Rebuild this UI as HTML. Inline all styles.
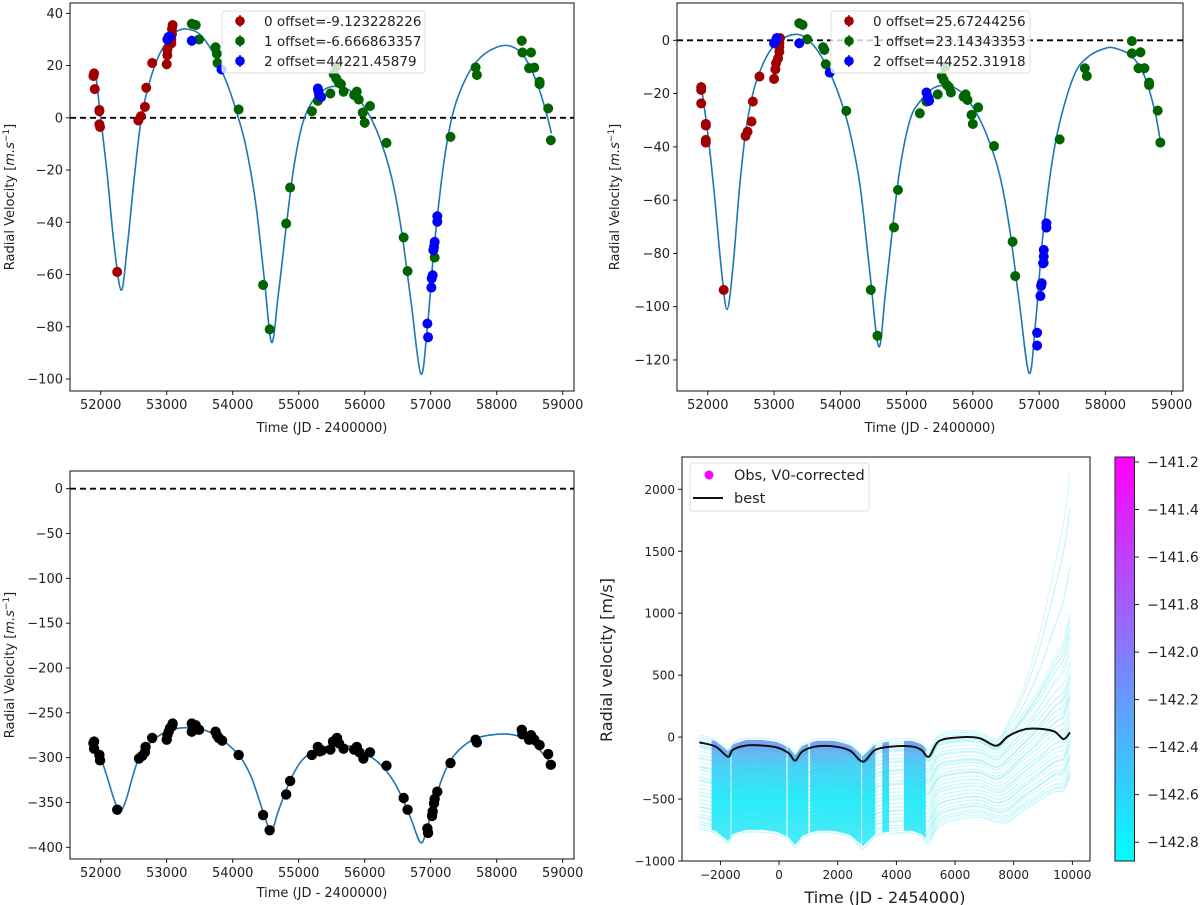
<!DOCTYPE html>
<html><head><meta charset="utf-8"><style>
html,body{margin:0;padding:0;background:#fff;}
svg{display:block;font-family:"DejaVu Sans","Liberation Sans",sans-serif;}
</style></head><body>
<svg id="fig" width="1200" height="905" viewBox="0 0 1200 905" xmlns="http://www.w3.org/2000/svg">
<defs>
<linearGradient id="cbgrad" x1="0" y1="1" x2="0" y2="0">
<stop offset="0" stop-color="#00ffff"/><stop offset="1" stop-color="#ff00ff"/></linearGradient>
<linearGradient id="obsgrad" gradientUnits="userSpaceOnUse" x1="0" y1="725" x2="0" y2="860">
<stop offset="0" stop-color="#b060f0"/><stop offset="0.12" stop-color="#6a90f2"/><stop offset="0.3" stop-color="#30c8f4"/><stop offset="0.55" stop-color="#0ae8f8"/><stop offset="1" stop-color="#40e6f6"/></linearGradient>
</defs>
</svg>
<script>
// ---------- DATA ----------
const tl_model_t=[51920,52000,52100,52200,52310,52400,52500,52600,52700,52850,53000,53150,53300,53500,53700,53900,54050,54200,54350,54480,54590,54690,54800,54920,55050,55200,55400,55600,55800,56000,56200,56400,56550,56700,56850,56950,57050,57200,57350,57550,57750,58000,58200,58400,58600,58750,58830];
const tl_model_v=[18,0,-22,-48,-66,-50,-25,-3,10,22,29,33,34,32,25,14,3,-11,-33,-62,-86,-68,-44,-20,-3,6,11,12,10,4,-6,-22,-42,-70,-98,-80,-50,-17,3,16,23,27,27.5,24,14,2,-6];
const tl_s0_t=[51890,51900,51910,51980,51980,51980,51990,52250,52570,52610,52670,52690,52780,53000,53010,53010,53040,53070,53080,53080,53090,53070];
const tl_s0_v=[16,17,11,3,2.5,-2.5,-3.5,-59,-1,0.6,4.2,11.5,21,20.5,24,26,28,30,32,34,35.5,28.5];
const tl_s1_t=[53380,53440,53490,53740,53760,53770,54090,54460,54560,54810,54870,55200,55290,55480,55530,55570,55570,55610,55640,55680,55840,55880,55910,55970,56000,56080,56330,56590,56650,57060,57300,57680,57700,58380,58390,58520,58490,58570,58650,58650,58780,58820];
const tl_s1_v=[36,35.5,30,27,24.5,21,3.2,-64,-81,-40.5,-26.7,2.5,6.5,9.3,16.7,19.5,15,13.4,12.9,10,8.7,10,7,2,-1.9,4.5,-9.6,-45.8,-58.7,-53.5,-7.3,19.3,16.4,29.5,25,25,19,19.2,13.8,12.9,3.6,-8.6];
const tl_s2_t=[53010,53030,53050,53380,53830,55290,55310,55340,55300,56950,56960,57010,57015,57030,57040,57050,57060,57100,57100];
const tl_s2_v=[30,31,31,29.5,18.5,11.2,8.7,8,10,-78.8,-84,-65,-61.5,-60.3,-50.7,-49.4,-47.5,-37.7,-39.8];

const tr_model_t=[51900,52000,52100,52200,52290,52380,52480,52580,52700,52850,53000,53200,53400,53600,53800,54000,54150,54300,54450,54580,54680,54800,54900,55050,55200,55400,55600,55800,56000,56200,56400,56550,56700,56850,56950,57050,57200,57350,57550,57750,58000,58150,58400,58600,58750,58830];
const tr_model_v=[-17,-35,-58,-85,-101,-85,-55,-33,-18,-8,-2,1.5,2,-2,-10,-22,-35,-55,-88,-115,-95,-68,-48,-30,-23,-18,-17,-19,-25,-35,-50,-70,-98,-125,-105,-75,-45,-27,-12,-6,-3,-3,-6,-14,-27,-38];
const tr_s0_t=[51900,51900,51900,51970,51970,51970,51970,52240,52570,52600,52660,52680,52780,53000,53020,53030,53060,53080,53080,53090,53080];
const tr_s0_v=[-18.6,-17.6,-23.7,-31.4,-32,-37.4,-38.4,-93.7,-35.9,-34.3,-30.5,-23,-13.6,-14.5,-10.9,-8.6,-6.8,-4.3,-2.4,0.8,-1.1];
const tr_s1_t=[53380,53430,53500,53740,53760,53780,54090,54460,54560,54810,54870,55200,55300,55470,55530,55580,55560,55610,55640,55670,55860,55890,55920,55980,56000,56080,56320,56600,56640,57070,57310,57690,57720,58400,58400,58530,58500,58590,58660,58660,58790,58830];
const tr_s1_v=[6.4,5.8,0.4,-2.6,-3.6,-9,-26.5,-93.7,-110.9,-70.2,-56.2,-27.4,-23,-20.3,-13.4,-9.9,-14.9,-16.8,-17.6,-19.6,-21.2,-20.3,-22.4,-28,-31.4,-25.2,-39.7,-75.6,-88.5,-83.5,-37.2,-10.5,-13.4,-0.3,-4.9,-4.5,-10.5,-10.5,-15.9,-16.8,-26.4,-38.4];
const tr_s2_t=[53000,53030,53040,53380,53840,55300,55320,55340,55330,56970,56970,57020,57030,57040,57060,57070,57070,57110,57110];
const tr_s2_v=[-1.1,0.1,0.8,-1.1,-12.1,-19.6,-21.2,-22.7,-21.8,-109.8,-114.6,-96,-92.2,-91.2,-83.7,-81.2,-78.7,-70.3,-68.7];

const bl_model_t=[51900,52000,52100,52200,52290,52380,52480,52580,52700,52850,53000,53200,53400,53600,53800,54000,54150,54300,54450,54580,54680,54800,54920,55050,55200,55400,55600,55800,56000,56200,56400,56550,56700,56850,56950,57050,57200,57350,57550,57750,58000,58200,58400,58600,58750,58830];
const bl_model_v=[-283,-300,-322,-346,-360,-348,-322,-300,-287,-277,-271,-267,-267,-270,-278,-290,-303,-325,-358,-382,-362,-338,-318,-303,-294,-288,-286,-288,-295,-305,-322,-342,-368,-395,-377,-350,-318,-298,-284,-277,-274,-274,-278,-288,-300,-308];
const bl_obs_t=[51890,51900,51900,51980,51990,52250,52580,52630,52670,52680,52780,53000,53010,53030,53050,53080,53090,53380,53380,53440,53490,53740,53760,53790,53840,54090,54460,54560,54810,54870,55200,55290,55320,55350,55480,55520,55580,55610,55680,55840,55880,55920,55980,56080,56330,56590,56650,56950,56960,57020,57030,57050,57060,57100,57300,57680,57700,58380,58390,58520,58490,58570,58650,58780,58820];
const bl_obs_v=[-284,-282,-290,-297,-303,-358,-301,-298,-294,-288,-278,-280,-275,-271,-267,-265,-262,-262,-271,-264,-269,-271,-275,-278,-281,-297,-364,-381,-341,-326,-297,-288,-293,-292,-291,-282,-278,-284,-290,-291,-288,-294,-301,-294,-309,-345,-358,-379,-384,-365,-360,-351,-346,-338,-306,-280,-283,-269,-274,-275,-280,-280,-286,-296,-308];

const br_best_t=[-2720,-2170,-1740,-1580,-1120,-600,-70,330,550,790,1250,1900,2430,2860,3280,3870,4530,4850,5110,5440,6100,6820,7400,7800,8330,8850,9380,9700,9920];
const br_best_v=[-43,-76,-158,-103,-68,-68,-84,-130,-190,-117,-76,-76,-111,-198,-103,-76,-76,-103,-158,-35,-3,-8,-70,5,60,68,46,-16,38];
const br_line_start=[60,40,20,0,-20,-40,-70,-100,-130,-160,-190,-220,-250,-280,-310,-340,-370,-400,-430,-460,-490,-520,-550,-580,-610,-640,-660,-680,-700,-30,-120,-200,-300,-420,-520,-600];
const br_line_end=[2130,1850,1380,1000,880,820,700,600,520,450,400,350,300,250,200,150,100,60,20,-20,-60,-100,-140,-180,-220,-260,-290,-300,-320,950,760,480,330,140,-40,-150];
const br_blocks_start=[-2300,-1620,290,1060,2830,3520,4260];
const br_blocks_end=[-1660,250,1000,2800,3280,3750,5000];
const cb_ticks=[-141.2,-141.4,-141.6,-141.8,-142.0,-142.2,-142.4,-142.6,-142.8];

// ---------- HELPERS ----------
const NS="http://www.w3.org/2000/svg";
const svg=document.getElementById('fig');
function mk(tag,attrs,parent){const e=document.createElementNS(NS,tag);for(const k in attrs)e.setAttribute(k,attrs[k]);(parent||svg).appendChild(e);return e;}
function fmt(v,d){let s=d?v.toFixed(d):String(v);return s.replace('-','\u2212');}
function smoothPath(pts){
  let d='M'+pts[0][0].toFixed(1)+','+pts[0][1].toFixed(1);
  for(let i=0;i<pts.length-1;i++){
    const p0=pts[Math.max(0,i-1)],p1=pts[i],p2=pts[i+1],p3=pts[Math.min(pts.length-1,i+2)];
    const c1x=p1[0]+(p2[0]-p0[0])/6,c1y=p1[1]+(p2[1]-p0[1])/6;
    const c2x=p2[0]-(p3[0]-p1[0])/6,c2y=p2[1]-(p3[1]-p1[1])/6;
    d+=' C'+c1x.toFixed(1)+','+c1y.toFixed(1)+' '+c2x.toFixed(1)+','+c2y.toFixed(1)+' '+p2[0].toFixed(1)+','+p2[1].toFixed(1);
  }
  return d;
}
function interp(ts,vs,t){
  if(t<=ts[0])return vs[0];
  for(let i=0;i<ts.length-1;i++){if(t<=ts[i+1]){const f=(t-ts[i])/(ts[i+1]-ts[i]);return vs[i]+f*(vs[i+1]-vs[i]);}}
  return vs[vs.length-1];
}
function axes(P,name,xticks,yticks,fs){
  const g=mk('g',{});
  
  
  xticks.forEach(t=>{const x=P.x(t);
    mk('line',{x1:x,x2:x,y1:P.b,y2:P.b+4,stroke:'#000','stroke-width':0.9},g);
    const tx=mk('text',{x:x,y:P.b+18,'font-size':fs,'text-anchor':'middle',fill:'#222'},g);tx.textContent=fmt(t);
    
    
  });
  yticks.forEach(v=>{const y=P.y(v);
    mk('line',{x1:P.l-4,x2:P.l,y1:y,y2:y,stroke:'#000','stroke-width':0.9},g);
    const tx=mk('text',{x:P.l-7,y:y+4.5,'font-size':fs,'text-anchor':'end',fill:'#222'},g);tx.textContent=fmt(v);
    
    
  });
  return g;
}
function frame(P){const r=mk('rect',{x:P.l,y:P.t,width:P.r-P.l,height:P.b-P.t,fill:'none',stroke:'#222','stroke-width':1.1});
  
  }
function clipFor(P,id){const c=mk('clipPath',{id:id});mk('rect',{x:P.l,y:P.t,width:P.r-P.l,height:P.b-P.t},c);return 'url(#'+id+')';}
function dashZero(P,g){const l=mk('line',{x1:P.l,x2:P.r,y1:P.y(0),y2:P.y(0),stroke:'#000','stroke-width':1.8,'stroke-dasharray':'6,4'},g);
  
  }
function modelCurve(P,ts,vs,g,color,w){const pts=ts.map((t,i)=>[P.x(t),P.y(vs[i])]);
  const p=mk('path',{d:smoothPath(pts),fill:'none',stroke:color,'stroke-width':w},g);
  
  }
function points(P,ts,vs,g,color,r,err,nm){
  ts.forEach((t,i)=>{const x=P.x(t),y=P.y(vs[i]);
    if(err){mk('line',{x1:x,x2:x,y1:y-err,y2:y+err,stroke:color,'stroke-width':1.4},g);}
    const c=mk('circle',{cx:x,cy:y,r:r,fill:color},g);
    
    
  });
}
function ylabel(x,y,txt,fs,name){const t=mk('text',{x:x,y:y,'font-size':fs,'text-anchor':'middle',fill:'#222',transform:'rotate(-90 '+x+' '+y+')'});t.innerHTML=txt;
  
  }
function xlabel(x,y,txt,fs,name){const t=mk('text',{x:x,y:y,'font-size':fs,'text-anchor':'middle',fill:'#222'});t.textContent=txt;
  
  }
function legend3(x0,y0,w,labels,colors,name){
  const g=mk('g',{});
  
  
  mk('rect',{x:x0,y:y0,width:w,height:62,rx:3,fill:'#fff','fill-opacity':0.8,stroke:'#ddd'},g);
  labels.forEach((lb,i)=>{const y=y0+10+i*20;
    const e=mk('g',{},g);
    
    
    mk('line',{x1:x0+18,x2:x0+18,y1:y-6,y2:y+6,stroke:colors[i],'stroke-width':1.4},e);
    mk('circle',{cx:x0+18,cy:y,r:4.8,fill:colors[i]},e);
    const t=mk('text',{x:x0+42,y:y+5,'font-size':13.5,fill:'#222'},e);t.textContent=lb;});
}
const RED='#a00000',GRN='#006400',BLU='#0000ff',MC='#1f77b4';
const XT=[52000,53000,54000,55000,56000,57000,58000,59000];
const YLAB='Radial Velocity [<tspan font-style="italic">m.s</tspan><tspan dy="-5" font-size="9">\u22121</tspan><tspan dy="5">]</tspan>';

// ---------- PANEL 1 ----------
const P1={l:70,r:574,t:3,b:391,x:t=>100.7+(t-52000)*0.0660,y:v=>117.8-v*2.612};
{const cp=clipFor(P1,'c1');const g=mk('g',{'clip-path':cp});
 
 
 dashZero(P1,g);modelCurve(P1,tl_model_t,tl_model_v,g,MC,1.6);
 points(P1,tl_s0_t,tl_s0_v,g,RED,5,5,'point-set0');points(P1,tl_s1_t,tl_s1_v,g,GRN,5,5,'point-set1');points(P1,tl_s2_t,tl_s2_v,g,BLU,5,5,'point-set2');}
frame(P1);axes(P1,'top-left',XT,[-100,-80,-60,-40,-20,0,20,40],13);
ylabel(14,197,YLAB,13,'y-axis-title');xlabel(322,432,'Time (JD - 2400000)',13,'x-axis-title');
legend3(222,11,203,['0 offset=-9.123228226','1 offset=-6.666863357','2 offset=44221.45879'],[RED,GRN,BLU],'legend-top-left');

// ---------- PANEL 2 ----------
const P2={l:677,r:1183,t:3,b:391,x:t=>707.8+(t-52000)*0.06626,y:v=>40.3-v*2.664};
{const cp=clipFor(P2,'c2');const g=mk('g',{'clip-path':cp});
 
 
 dashZero(P2,g);modelCurve(P2,tr_model_t,tr_model_v,g,MC,1.6);
 points(P2,tr_s0_t,tr_s0_v,g,RED,5,5,'point-set0');points(P2,tr_s1_t,tr_s1_v,g,GRN,5,5,'point-set1');points(P2,tr_s2_t,tr_s2_v,g,BLU,5,5,'point-set2');}
frame(P2);axes(P2,'top-right',XT,[-120,-100,-80,-60,-40,-20,0],13);
ylabel(619,197,YLAB,13,'y-axis-title');xlabel(930,432,'Time (JD - 2400000)',13,'x-axis-title');
legend3(831,11,199,['0 offset=25.67244256','1 offset=23.14343353','2 offset=44252.31918'],[RED,GRN,BLU],'legend-top-right');

// ---------- PANEL 3 ----------
const P3={l:70,r:574,t:471,b:859,x:t=>100.7+(t-52000)*0.0660,y:v=>488.7-v*0.8965};
{const cp=clipFor(P3,'c3');const g=mk('g',{'clip-path':cp});
 
 
 dashZero(P3,g);modelCurve(P3,bl_model_t,bl_model_v,g,MC,1.6);
 points(P3,bl_obs_t,bl_obs_v,g,'#000',5.2,0,'observation-point');}
frame(P3);axes(P3,'bottom-left',XT,[-400,-350,-300,-250,-200,-150,-100,-50,0],13);
ylabel(14,665,YLAB,13,'y-axis-title');xlabel(322,897,'Time (JD - 2400000)',13,'x-axis-title');

// ---------- PANEL 4 ----------
const P4={l:682,r:1090,t:457,b:861,x:t=>720.4+(t+2000)*0.02933,y:v=>737.1-v*0.1239};
{const cp=clipFor(P4,'c4');const g=mk('g',{'clip-path':cp});
 
 
 const tEnd=br_best_t[br_best_t.length-1],bEnd=br_best_v[br_best_v.length-1];
 br_line_start.forEach((a,i)=>{
   const b=br_line_end[i]-bEnd;const pts=[];
   br_best_t.forEach((t,j)=>{let off=a;
     if(t>7400){const f=(t-7400)/(tEnd-7400);off=a+(b-a)*f*f;}
     else if(t>5100){off=a*(1-0.12*(t-5100)/2300);}
     pts.push([P4.x(t),P4.y(br_best_v[j]+off)]);});
   const p=mk('path',{d:smoothPath(pts),fill:'none',stroke:i%3==0?'#b0f4fb':'#40e0f0','stroke-opacity':i%3==0?0.55:0.3,'stroke-width':1.2},g);
   
   
 });
 br_blocks_start.forEach((s,i)=>{const e=br_blocks_end[i];const top=[],bot=[];
   for(let k=0;k<=24;k++){const t=s+(e-s)*k/24;const bv=interp(br_best_t,br_best_v,t);top.push([P4.x(t),P4.y(bv+45)]);bot.push([P4.x(t),P4.y(bv-680)]);}
   const d='M'+top.map(p=>p[0].toFixed(1)+','+p[1].toFixed(1)).join(' L')+' L'+bot.reverse().map(p=>p[0].toFixed(1)+','+p[1].toFixed(1)).join(' L')+'Z';
   const p=mk('path',{d:d,fill:'url(#obsgrad)','fill-opacity':0.85},g);
   
   
 });
 const pts=br_best_t.map((t,i)=>[P4.x(t),P4.y(br_best_v[i])]);
 const bp=mk('path',{d:smoothPath(pts),fill:'none',stroke:'#111','stroke-width':2},g);
 
 
}
frame(P4);axes(P4,'bottom-right',[-2000,0,2000,4000,6000,8000,10000],[-1000,-500,0,500,1000,1500,2000],12);
ylabel(612,660,'Radial velocity [m/s]',16,'y-axis-title');xlabel(885,903,'Time (JD - 2454000)',16,'x-axis-title');
{const g=mk('g',{});
 
 
 mk('rect',{x:690,y:463,width:179,height:48,rx:3,fill:'#fff','fill-opacity':0.85,stroke:'#ddd'},g);
 mk('circle',{cx:709,cy:475,r:4.5,fill:'#ff00ff'},g);
 let t=mk('text',{x:734,y:480,'font-size':14.5,fill:'#222'},g);t.textContent='Obs, V0-corrected';
 mk('line',{x1:693,x2:723,y1:498,y2:498,stroke:'#111','stroke-width':2},g);
 t=mk('text',{x:734,y:503,'font-size':14.5,fill:'#222'},g);t.textContent='best';}
{const g=mk('g',{});
 
 
 mk('rect',{x:1115,y:457,width:19.5,height:404,fill:'url(#cbgrad)',stroke:'#222','stroke-width':1},g);
 const cy=v=>462+(-141.2-v)/1.6*380.2;
 cb_ticks.forEach(v=>{const y=cy(v);
   mk('line',{x1:1134.5,x2:1139,y1:y,y2:y,stroke:'#000','stroke-width':0.9},g);
   const t=mk('text',{x:1147,y:y+5,'font-size':14,fill:'#222'},g);t.textContent=fmt(v,1);
   
   });}
</script>
</body></html>
